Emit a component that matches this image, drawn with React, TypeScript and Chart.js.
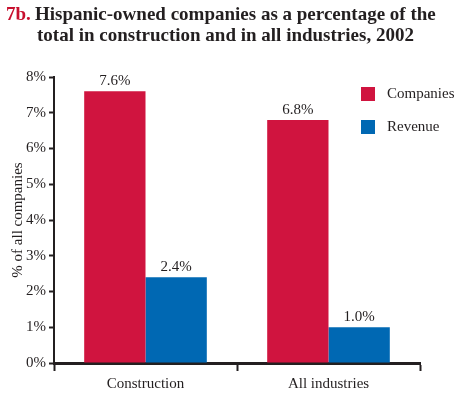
import React, { useEffect, useRef } from "react";
import { Chart, registerables } from "chart.js";

Chart.register(...registerables);

const categories = ["Construction", "All industries"];
const companiesValues = [7.6, 6.8];
const revenueValues = [2.4, 1.0];
const seriesNames = ["Companies", "Revenue"];
const yTicks = [0, 1, 2, 3, 4, 5, 6, 7, 8];
const titlePrefix = "7b.";
const titleLine1 = "Hispanic-owned companies as a percentage of the";
const titleLine2 = "total in construction and in all industries, 2002";
const yAxisTitle = "% of all companies";

const RED = "#D0143F";
const BLUE = "#0068B3";
const TEXT = "#231F20";
const SERIF = "'Liberation Serif', 'Times New Roman', serif";

const overlayPlugin = {
  id: "overlay",
  afterDraw(chart: any) {
    const ctx = chart.ctx;
    ctx.save();
    // Title
    ctx.textBaseline = "alphabetic";
    ctx.textAlign = "left";
    ctx.font = `bold 19px ${SERIF}`;
    ctx.fillStyle = "#C8102E";
    ctx.fillText(titlePrefix, 6, 20);
    ctx.fillStyle = TEXT;
    ctx.fillText(titleLine1, 35, 20);
    ctx.fillText(titleLine2, 37, 41);

    // Legend
    const colors = [RED, BLUE];
    ctx.font = `15px ${SERIF}`;
    ctx.textBaseline = "middle";
    seriesNames.forEach((name, i) => {
      const y = 94 + i * 33;
      ctx.fillStyle = colors[i];
      ctx.fillRect(361, y - 7, 14, 14);
      ctx.fillStyle = TEXT;
      ctx.fillText(name, 387, y);
    });

    // Value labels
    ctx.font = `15px ${SERIF}`;
    ctx.textAlign = "center";
    ctx.textBaseline = "alphabetic";
    chart.data.datasets.forEach((ds: any, di: number) => {
      const meta = chart.getDatasetMeta(di);
      meta.data.forEach((bar: any, i: number) => {
        ctx.fillStyle = TEXT;
        ctx.fillText(ds.data[i].toFixed(1) + "%", bar.x, bar.y - 6);
      });
    });
    ctx.restore();
  },
};

export default function App() {
  const ref = useRef<HTMLCanvasElement>(null);
  useEffect(() => {
    if (!ref.current) return;
    const chart = new Chart(ref.current, {
      type: "bar",
      data: {
        labels: categories,
        datasets: [
          { label: seriesNames[0], data: companiesValues, backgroundColor: RED },
          { label: seriesNames[1], data: revenueValues, backgroundColor: BLUE },
        ],
      },
      options: {
        responsive: false,
        animation: false,
        devicePixelRatio: 1,
        layout: { padding: { left: 0, right: 51, top: 77, bottom: 0 } },
        plugins: {
          legend: { display: false },
          title: { display: false },
          tooltip: { enabled: false },
        },
        datasets: { bar: { categoryPercentage: 0.67, barPercentage: 1 } },
        scales: {
          x: {
            grid: {
              offset: true,
              drawOnChartArea: false,
              drawTicks: true,
              tickLength: 8,
              tickWidth: 2,
              tickColor: TEXT,
            },
            border: { display: true, width: 3, color: TEXT },
            ticks: {
              color: TEXT,
              font: { family: SERIF, size: 15 },
              padding: 4,
            },
            afterFit(scale: any) {
              scale.height = 397 - 363;
            },
          },
          y: {
            min: 0,
            max: 8,
            afterBuildTicks(scale: any) {
              scale.ticks = yTicks.map((v) => ({ value: v }));
            },
            grid: {
              drawOnChartArea: false,
              drawTicks: true,
              tickLength: 5,
              tickWidth: 2,
              tickColor: TEXT,
            },
            border: { display: true, width: 2, color: TEXT },
            ticks: {
              color: TEXT,
              font: { family: SERIF, size: 15 },
              padding: 3,
              callback: (v: any) => v + "%",
            },
            title: {
              display: true,
              text: yAxisTitle,
              color: TEXT,
              font: { family: SERIF, size: 15 },
              padding: { top: 9, bottom: 0 },
            },
            afterFit(scale: any) {
              scale.width = 54;
            },
          },
        },
      },
      plugins: [overlayPlugin],
    } as any);
    return () => chart.destroy();
  }, []);
  return (
    <div style={{ position: "fixed", left: 0, top: 0, width: 471, height: 397, background: "#fff" }}>
      <canvas ref={ref} width={471} height={397} style={{ display: "block" }} />
    </div>
  );
}
